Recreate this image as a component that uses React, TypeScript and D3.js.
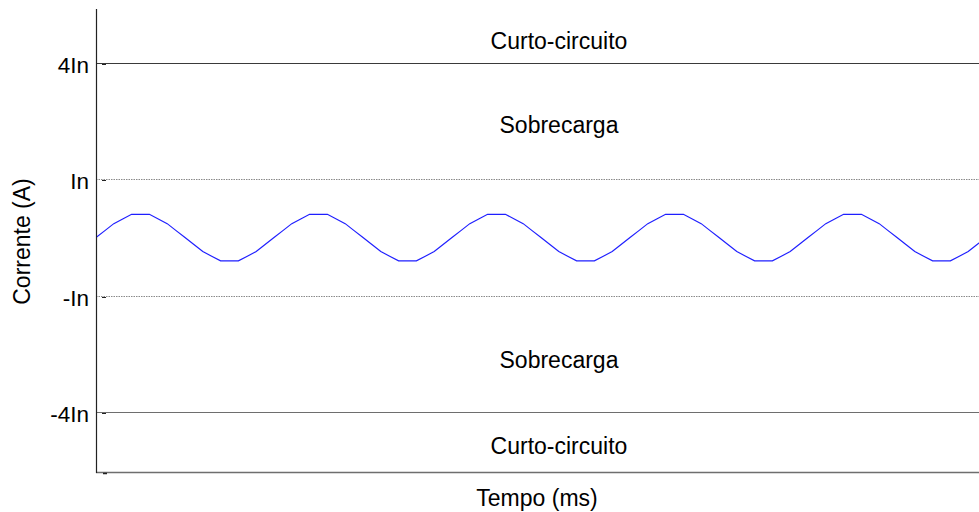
import React from "react";
import * as d3 from "d3";

const WIDTH = 979;
const HEIGHT = 512;

// Current samples (units of In), sampled every 1/20 of a 60 Hz cycle
const currentValues: number[] = [
  0, 0.12, 0.24, 0.32, 0.4, 0.4, 0.4, 0.32, 0.24, 0.12,
  0, -0.12, -0.24, -0.32, -0.4, -0.4, -0.4, -0.32, -0.24, -0.12,
  0, 0.12, 0.24, 0.32, 0.4, 0.4, 0.4, 0.32, 0.24, 0.12,
  0, -0.12, -0.24, -0.32, -0.4, -0.4, -0.4, -0.32, -0.24, -0.12,
  0, 0.12, 0.24, 0.32, 0.4, 0.4, 0.4, 0.32, 0.24, 0.12,
  0, -0.12, -0.24, -0.32, -0.4, -0.4, -0.4, -0.32, -0.24, -0.12,
  0, 0.12, 0.24, 0.32, 0.4, 0.4, 0.4, 0.32, 0.24, 0.12,
  0, -0.12, -0.24, -0.32, -0.4, -0.4, -0.4, -0.32, -0.24, -0.12,
  0, 0.12, 0.24, 0.32, 0.4, 0.4, 0.4, 0.32, 0.24, 0.12,
  0, -0.12, -0.24, -0.32, -0.4, -0.4, -0.4, -0.32, -0.24, -0.12,
  0,
];
const sampleStepMs = 1000 / 60 / 20;

const tickValues: number[] = [3, 1, -1, -3];
const tickLabels: string[] = ["4In", "In", "-In", "-4In"];
const thresholdStyles: string[] = ["solid-dark", "dotted", "dotted", "solid-light"];

const regionLabels: string[] = ["Curto-circuito", "Sobrecarga", "Sobrecarga", "Curto-circuito"];
const regionLevels: number[] = [3.38, 1.94, -2.1, -3.58];

const xLabel = "Tempo (ms)";
const yLabel = "Corrente (A)";

const FONT = "'Liberation Sans', Arial, sans-serif";

export default function App() {
  const left = 96;
  const top = 9;
  const bottom = 472;

  const x = d3.scaleLinear().domain([0, 100 * sampleStepMs]).range([96, 986]);
  const y = d3.scaleLinear().domain([-4.03, 3.93]).range([bottom, top]);

  const data = currentValues.map((v, i) => ({ t: i * sampleStepMs, v }));
  const line = d3
    .line<{ t: number; v: number }>()
    .x((d) => x(d.t))
    .y((d) => y(d.v));

  return (
    <svg
      width={WIDTH}
      height={HEIGHT}
      style={{ position: "absolute", left: 0, top: 0, display: "block", background: "#fff" }}
      fontFamily={FONT}
    >
      <defs>
        <clipPath id="plot">
          <rect x={left + 1} y={top} width={WIDTH} height={bottom - top} />
        </clipPath>
      </defs>

      {/* threshold lines */}
      {tickValues.map((tv, i) => {
        const st = thresholdStyles[i];
        const yy = Math.round(y(tv)) + 0.5;
        return (
          <line
            key={"th" + i}
            x1={left}
            x2={WIDTH}
            y1={yy}
            y2={yy}
            stroke={st === "solid-dark" ? "#3a3a3a" : st === "solid-light" ? "#6e6e6e" : "#8a8a8a"}
            strokeWidth={st === "dotted" ? 1 : 1.2}
            strokeDasharray={st === "dotted" ? "1.5,1" : undefined}
          />
        );
      })}

      {/* bottom axis */}
      <line x1={left} x2={WIDTH} y1={bottom + 0.5} y2={bottom + 0.5} stroke="#6e6e6e" strokeWidth={1.3} />
      {/* left axis */}
      <line x1={left + 0.5} x2={left + 0.5} y1={top} y2={bottom + 1} stroke="#222" strokeWidth={1.2} />

      {/* small tick marks */}
      {tickValues.map((tv, i) => (
        <line
          key={"tk" + i}
          x1={left + 6}
          x2={left + 10}
          y1={Math.round(y(tv)) + 1.5}
          y2={Math.round(y(tv)) + 1.5}
          stroke="#222"
          strokeWidth={1}
        />
      ))}
      <line x1={left + 7} x2={left + 11} y1={bottom + 1.5} y2={bottom + 1.5} stroke="#222" strokeWidth={1.5} />

      {/* tick labels */}
      {tickValues.map((tv, i) => (
        <text
          key={"tl" + i}
          x={89}
          y={y(tv) + 2}
          dy="0.35em"
          textAnchor="end"
          fontSize={22.5}
          fill="#000"
        >
          {tickLabels[i]}
        </text>
      ))}

      {/* region labels */}
      {regionLabels.map((lab, i) => (
        <text
          key={"rl" + i}
          x={559}
          y={y(regionLevels[i])}
          dy="0.35em"
          textAnchor="middle"
          fontSize={23}
          fill="#000"
        >
          {lab}
        </text>
      ))}

      {/* current waveform */}
      <g clipPath="url(#plot)">
        <path d={line(data) || ""} fill="none" stroke="#1f1fff" strokeWidth={1.2} />
      </g>

      {/* axis titles */}
      <text x={537} y={506} textAnchor="middle" fontSize={23} fill="#000">
        {xLabel}
      </text>
      <text
        transform={`translate(30, ${(top + bottom) / 2 + 1}) rotate(-90)`}
        textAnchor="middle"
        fontSize={23}
        fill="#000"
      >
        {yLabel}
      </text>
    </svg>
  );
}
